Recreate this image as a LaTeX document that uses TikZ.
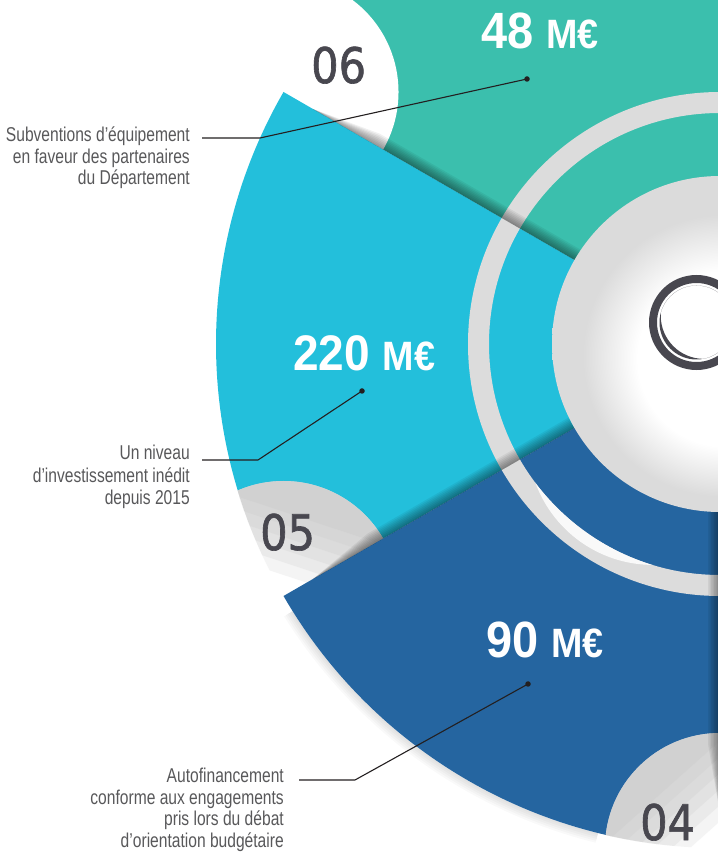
\documentclass[tikz,border=0pt]{standalone}
\usepackage{fontspec}
\setmainfont{Liberation Sans}
\newfontfamily\valfont[FakeStretch=0.92]{Liberation Sans}
\newfontfamily\labfont[FakeStretch=0.78]{Liberation Sans}
\newfontfamily\numfont[FakeStretch=0.88,FakeBold=1.3]{DejaVu Sans}
\usetikzlibrary{calc}
\definecolor{tealc}{HTML}{3BBFAD}
\definecolor{lbluec}{HTML}{23BFDB}
\definecolor{dbluec}{HTML}{2565A0}
\definecolor{ringc}{HTML}{DCDCDC}
\definecolor{rimc}{HTML}{DBDBDB}
\definecolor{flapc}{HTML}{BEBEBE}
\definecolor{numc}{HTML}{48474F}
\definecolor{txtc}{HTML}{58585A}
\definecolor{leadc}{HTML}{231F20}
\pgfdeclareradialshading{diskshade}{\pgfpoint{1bp}{-3bp}}{color(0bp)=(white); color(13bp)=(white); color(21bp)=(rimc); color(25bp)=(rimc); color(50bp)=(rimc)}
\newcommand\notchflap[2]{%
  \begin{scope}
    \clip (#1) circle (115);
    \clip (C) circle (504);
    \begin{scope}[shift={(#1)}, rotate=#2]
      \foreach \dd in {20,32,44,56,68,80}{%
        \fill[flapc, opacity=0.17] (\dd,-130) -- (130,-130) -- (130,130) -- (\dd,130) -- cycle;}
    \end{scope}
  \end{scope}}
\begin{document}
\begin{tikzpicture}[x=1pt,y=1pt,
  valtxt/.style={text=white, inner sep=0pt, anchor=base west},
  labtxt/.style={text=txtc, inner sep=0pt, anchor=base east, font=\labfont\fontsize{20}{22}\selectfont},
  numtxt/.style={text=numc, inner sep=0pt, anchor=base west, font=\numfont\fontsize{49}{49}\selectfont},
  leaderline/.style={draw=leadc, line width=1.1pt},
  dotmark/.style={circle, fill=leadc, inner sep=0pt, minimum size=5.5pt},
  shadowstrip/.style={fill=black, opacity=0.06},
]
\useasboundingbox (0,0) rectangle (718,852);
\begin{scope}
\clip (0,0) rectangle (718,852);
\coordinate (C) at (720,508);
\coordinate (P150) at ($(C)+(150:504)$);
\coordinate (P210) at ($(C)+(210:504)$);
\coordinate (P270) at ($(C)+(270:504)$);
% sectors and notches
\fill[tealc] (C) -- ++(90:504) arc[start angle=90,end angle=150,radius=504] -- cycle;
\fill[white] (P150) circle (115);
\fill[lbluec] (C) -- ++(150:504) arc[start angle=150,end angle=210,radius=504] -- cycle;
\fill[white] (P210) circle (115);
\notchflap{P210}{71.72}
% drop shadow of dark blue sector
\foreach \ww in {2,4,6,8,10}{%
  \fill[black, opacity=0.025] ($(C)+(212:504)$) arc[start angle=212,end angle=256,radius=504]
     -- ($(C)+(256:504+\ww)$) arc[start angle=256,end angle=212,radius=504+\ww] -- cycle;}
\fill[dbluec] (C) -- ++(210:504) arc[start angle=210,end angle=270,radius=504] -- cycle;
\fill[white] (P270) circle (115);
\notchflap{P270}{131.72}
% ring
\fill[ringc, even odd rule] (C) circle (252) (C) circle (231);
\coordinate (H) at ($(C)+(235:116.7)$);
\begin{scope}
  \clip (H) circle (125.3);
  \fill[white, opacity=0.85, even odd rule] (C) circle (252) (C) circle (231);
\end{scope}
% shadows cast by each sector on the previous one
\foreach \aa in {150,210,270}{%
  \begin{scope}[shift={(C)}, rotate=\aa]
    \foreach \ww in {1.5,3,4.5,6,7.5,9,10.5,12}{%
      \fill[shadowstrip] (168,-\ww) -- (400,-\ww) -- (470,0) -- (168,0) -- cycle;}
  \end{scope}}
% central disk
\shade[shading=diskshade] (C) circle (168);
% logo
\coordinate (L) at (696.5,529.5);
\draw[numc, line width=8pt] (L) circle (43.5);
\begin{scope}
  \clip (L) circle (37);
  \fill[numc, even odd rule] (L) circle (37) ($(L)+(42.5:10)$) circle (43.14);
\end{scope}
\end{scope}
% values
\node[valtxt] (v48) at (481,803) {\valfont\bfseries\fontsize{51}{51}\selectfont 48 \fontsize{41}{41}\selectfont M€};
\node[valtxt] (v220) at (293,481) {\valfont\bfseries\fontsize{50}{50}\selectfont 220 \fontsize{41}{41}\selectfont M€};
\node[valtxt] (v90) at (486,194) {\valfont\bfseries\fontsize{51}{51}\selectfont 90 \fontsize{41}{41}\selectfont M€};
% numbers
\node[numtxt] (n06) at (311,769) {06};
\node[numtxt] (n05) at (260,302) {05};
\node[numtxt] (n04) at (640,12) {04};
% labels
\node[labtxt] (l1a) at (190,710) {Subventions d’équipement};
\node[labtxt] (l1b) at (190,688.5) {en faveur des partenaires};
\node[labtxt] (l1c) at (190,667) {du Département};
\node[labtxt] (l2a) at (190,392) {Un niveau};
\node[labtxt] (l2b) at (190,369) {d’investissement inédit};
\node[labtxt] (l2c) at (190,347) {depuis 2015};
\node[labtxt] (l3a) at (284,69) {Autofinancement};
\node[labtxt] (l3b) at (284,47.5) {conforme aux engagements};
\node[labtxt] (l3c) at (284,26) {pris lors du débat};
\node[labtxt] (l3d) at (284,5) {d’orientation budgétaire};
% leaders
\node[dotmark] (d1) at (527,773) {};
\node[dotmark] (d2) at (362,461) {};
\node[dotmark] (d3) at (528,168) {};
\coordinate (s1) at ($(l1a.base east)+(12,4)$);
\coordinate (b1) at ($(s1)+(58,0)$);
\coordinate (s2) at ($(l2a.base east)+(12,0)$);
\coordinate (b2) at ($(s2)+(56,0)$);
\coordinate (s3) at ($(l3a.base east)+(15,3)$);
\coordinate (b3) at ($(s3)+(56,0)$);
\draw[leaderline] (s1) -- (b1) -- (d1.center);
\draw[leaderline] (s2) -- (b2) -- (d2.center);
\draw[leaderline] (s3) -- (b3) -- (d3.center);
\end{tikzpicture}
\end{document}
